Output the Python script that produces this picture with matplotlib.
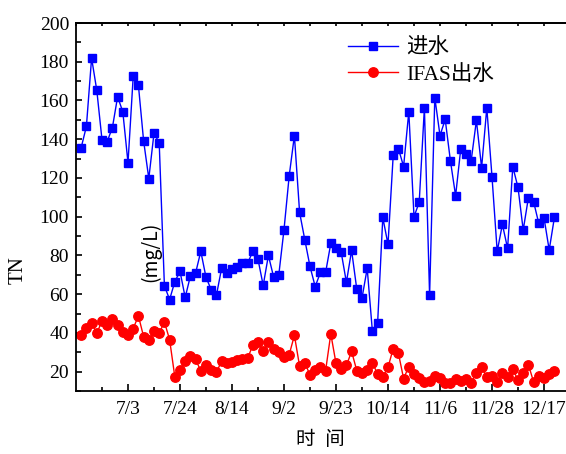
import matplotlib.pyplot as plt
import numpy as np
from matplotlib.ticker import MultipleLocator, FixedLocator

plt.rcParams['font.family'] = ['Liberation Serif', 'Noto Sans CJK SC']

# TN readings (mg/L), one sample per index
inflow = [135.7, 146.6, 181.9, 165.2, 139.7, 138.8, 146.0, 161.9, 154.2, 127.8,
          172.4, 167.9, 139.2, 119.7, 143.1, 138.2, 64.4, 57.2, 66.4, 71.8,
          58.3, 69.4, 70.9, 82.1, 68.7, 62.3, 59.4, 73.3, 71.1, 73.1,
          74.2, 75.9, 75.9, 82.1, 78.0, 64.5, 80.0, 68.9, 70.0, 93.3,
          121.1, 141.9, 102.2, 88.1, 74.3, 63.9, 71.2, 71.2, 86.2, 84.0,
          81.6, 66.1, 82.6, 62.5, 58.0, 73.3, 40.8, 44.9, 99.6, 85.7,
          131.6, 135.2, 125.9, 154.2, 100.0, 107.4, 156.2, 59.4, 161.5, 141.9,
          150.2, 128.9, 110.8, 135.2, 132.3, 129.0, 149.7, 125.3, 156.2, 120.6,
          82.1, 96.0, 83.6, 125.8, 115.1, 93.1, 109.8, 107.7, 96.5, 99.5,
          82.8, 99.6]
ifas_out = [38.8, 42.4, 45.3, 39.8, 46.2, 44.1, 47.4, 44.0, 40.4, 38.8,
            42.2, 48.8, 38.1, 36.4, 40.9, 39.8, 45.7, 36.5, 17.4, 20.8,
            25.6, 27.9, 26.4, 20.3, 23.6, 21.0, 19.7, 25.4, 24.3, 25.2,
            25.8, 26.4, 26.9, 33.6, 35.3, 30.4, 35.1, 31.8, 30.3, 27.6,
            28.8, 38.7, 22.8, 24.5, 18.3, 20.9, 22.6, 20.5, 39.5, 24.3,
            21.6, 23.2, 30.4, 20.5, 19.2, 21.0, 24.3, 19.0, 17.4, 22.2,
            31.9, 29.5, 16.4, 22.6, 18.8, 16.5, 14.6, 15.3, 17.8, 16.6,
            14.3, 14.0, 16.4, 15.3, 16.1, 14.3, 19.5, 22.6, 17.1, 17.8,
            14.5, 19.2, 17.4, 21.2, 15.7, 19.2, 23.6, 14.7, 17.8, 16.6,
            18.7, 20.5]
x = np.arange(1, len(inflow) + 1)

date_ticks = [10, 20, 30, 40, 50, 60, 70, 80, 90]
date_labels = ['7/3', '7/24', '8/14', '9/2', '9/23', '10/14', '11/6', '11/28', '12/17']

fig = plt.figure(figsize=(5.66, 4.54), dpi=100)
# axes runs past the right edge, as in the original export
ax = fig.add_axes([76 / 566, 1 - 391 / 454, 520 / 566, 368 / 454])

ax.plot(x, inflow, color='#0000ff', lw=1, marker='s', ms=6, label='进水')
ax.plot(x, ifas_out, color='#ff0000', lw=1, marker='o', ms=6.8, label='IFAS出水')

ax.set_xlim(0, 100)
ax.set_ylim(10, 200)
ax.xaxis.set_major_locator(FixedLocator(date_ticks))
ax.set_xticklabels(date_labels)
ax.xaxis.set_minor_locator(FixedLocator([5, 15, 25, 35, 45, 55, 65, 75, 85, 95]))
ax.yaxis.set_minor_locator(MultipleLocator(10))
ax.set_yticks(range(20, 201, 20))

ax.tick_params(axis='x', which='major', direction='in', length=5, width=1.2, labelsize=14, pad=7)
ax.tick_params(axis='x', which='minor', direction='in', length=3.2, width=1.2)
ax.tick_params(axis='y', which='major', direction='in', length=4.3, width=1.2, labelsize=14, pad=5)
ax.tick_params(axis='y', which='minor', direction='in', length=3.6, width=1.2)
for s in ax.spines.values():
    s.set_linewidth(1.3)

top = ax.secondary_xaxis('top')
top.set_xticks(np.arange(0, 101, 5))
top.tick_params(direction='in', length=1.8, width=1.2, labeltop=False)
top.spines['top'].set_linewidth(1.3)

ax.legend(loc='upper left', bbox_to_anchor=(348 / 566, 1 - 38 / 454),
          bbox_transform=fig.transFigure, frameon=False, fontsize=15.5,
          borderpad=0, borderaxespad=0, handlelength=2.3, handletextpad=0.4,
          labelspacing=0.3)

ax.text(14.3, 82.0, '(mg/L)', rotation=90, ha='center', va='center',
        fontsize=14, family=['Noto Sans CJK SC'])
fig.text(18 / 566, 1 - 270 / 454, 'TN', rotation=90, ha='center', va='center', fontsize=15)
fig.text(320 / 566, 1 - 440 / 454, '时  间', ha='center', va='center', fontsize=14)

fig.savefig('out.png', dpi=100)
